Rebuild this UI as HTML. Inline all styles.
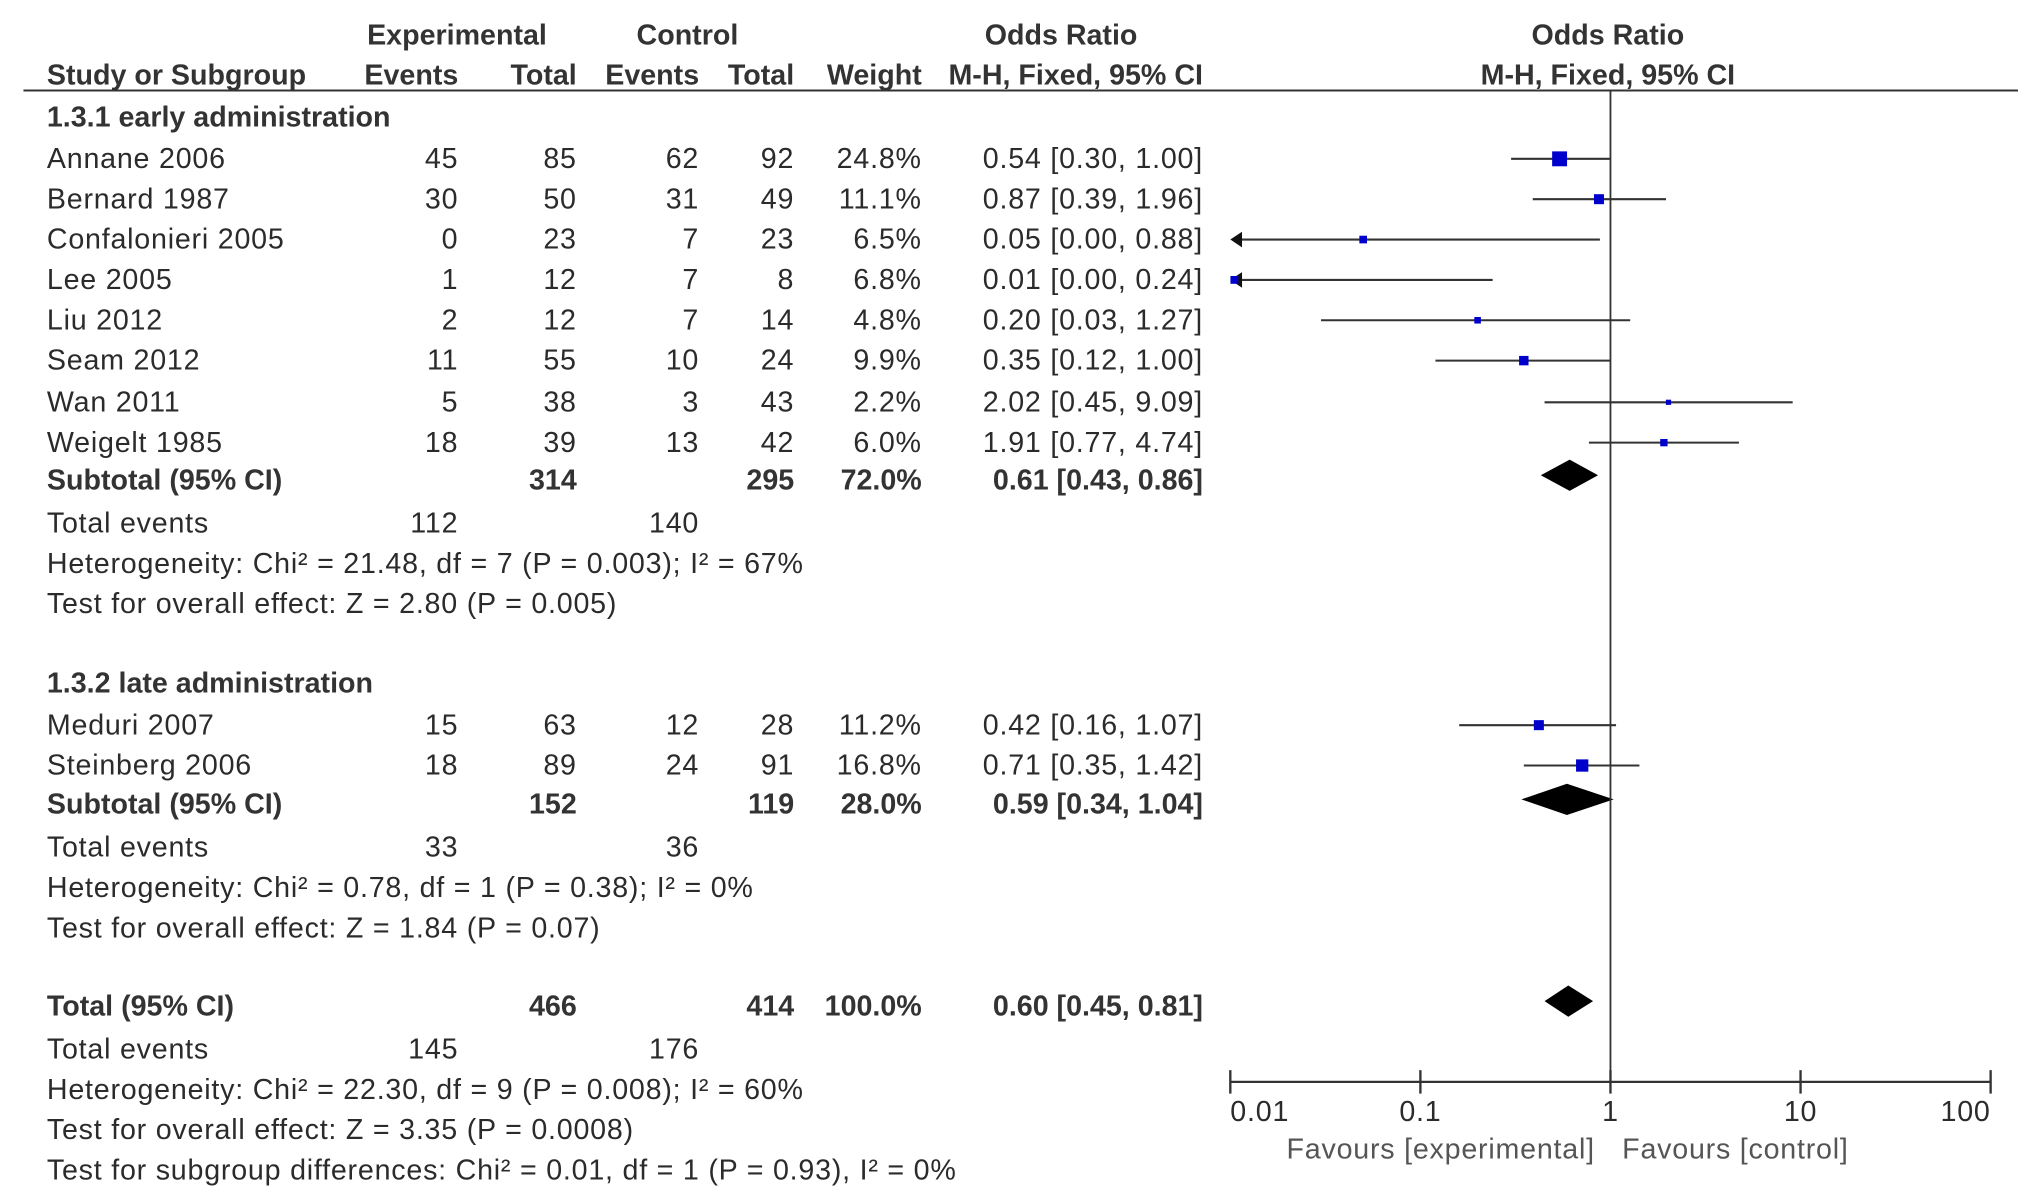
<!DOCTYPE html>
<html><head><meta charset="utf-8">
<style>
html,body{margin:0;padding:0;background:#fff;}
svg{display:block;}
text{font-family:"Liberation Sans",Arial,sans-serif;font-size:22px;letter-spacing:0.6px;fill:#2b2b2b;}
.b{font-weight:bold;letter-spacing:0;fill:#333;}
</style></head>
<body>
<svg id="chart" width="2031" height="1201" viewBox="0 0 1560 922.5" xmlns="http://www.w3.org/2000/svg">
<g id="hdr">
<text class="b" x="351" y="34" text-anchor="middle">Experimental</text>
<text class="b" x="528" y="34" text-anchor="middle">Control</text>
<text class="b" x="815" y="34" text-anchor="middle">Odds Ratio</text>
<text class="b" x="1235" y="34" text-anchor="middle">Odds Ratio</text>
<text class="b" x="36" y="65">Study or Subgroup</text>
<text class="b" x="352" y="65" text-anchor="end">Events</text>
<text class="b" x="443" y="65" text-anchor="end">Total</text>
<text class="b" x="537" y="65" text-anchor="end">Events</text>
<text class="b" x="610" y="65" text-anchor="end">Total</text>
<text class="b" x="708" y="65" text-anchor="end">Weight</text>
<text class="b" x="924" y="65" text-anchor="end">M-H, Fixed, 95% CI</text>
<text class="b" x="1235" y="65" text-anchor="middle">M-H, Fixed, 95% CI</text>
<line x1="18" y1="69.5" x2="1550" y2="69.5" stroke="#333" stroke-width="1.6"/>
</g>
<g id="rows"></g>
<g id="plot"></g>
</svg>
<script>
const studies=["Annane 2006","Bernard 1987","Confalonieri 2005","Lee 2005","Liu 2012","Seam 2012","Wan 2011","Weigelt 1985","Meduri 2007","Steinberg 2006"];
const expEvents=[45,30,0,1,2,11,5,18,15,18];
const expTotal=[85,50,23,12,12,55,38,39,63,89];
const ctrlEvents=[62,31,7,7,7,10,3,13,12,24];
const ctrlTotal=[92,49,23,8,14,24,43,42,28,91];
const weights=[24.8,11.1,6.5,6.8,4.8,9.9,2.2,6.0,11.2,16.8];
const orVals=[0.54,0.87,0.05,0.01,0.20,0.35,2.02,1.91,0.42,0.71];
const ciLow=[0.30,0.39,0.00,0.00,0.03,0.12,0.45,0.77,0.16,0.35];
const ciHigh=[1.00,1.96,0.88,0.24,1.27,1.00,9.09,4.74,1.07,1.42];
const studyY=[122,153,184,215,246,277,309,340,557,588];
const pooledLabels=["Subtotal (95% CI)","Subtotal (95% CI)","Total (95% CI)"];
const pooledExpTotal=[314,152,466];
const pooledCtrlTotal=[295,119,414];
const pooledWeight=["72.0%","28.0%","100.0%"];
const pooledOR=[0.61,0.59,0.60];
const pooledLow=[0.43,0.34,0.45];
const pooledHigh=[0.86,1.04,0.81];
const pooledY=[369,618,773];
const axisTicks=[0.01,0.1,1,10,100];
const axisTickLabels=["0.01","0.1","1","10","100"];

const NS="http://www.w3.org/2000/svg";
const rows=document.getElementById('rows'), plot=document.getElementById('plot');
function el(tag,attrs,parent,txt){const e=document.createElementNS(NS,tag);for(const k in attrs)e.setAttribute(k,attrs[k]);if(txt!==undefined)e.textContent=txt;parent.appendChild(e);return e;}
const X0=945,X1=1529;
function xs(v){return X0+(Math.log10(v)+2)/4*(X1-X0);}
const f2=v=>v.toFixed(2);

function txt(x,y,s,anchor,bold,name){
  const t=el('text',{x:x,y:y+7,'text-anchor':anchor||'start'},rows,s);
  if(bold)t.setAttribute('class','b');
  
  
  return t;
}
txt(36,90,"1.3.1 early administration","start",true,"subgroup-1-title");
txt(36,525,"1.3.2 late administration","start",true,"subgroup-2-title");

studies.forEach((s,i)=>{
  const y=studyY[i];
  txt(36,y,s,"start",false,"study-name");
  txt(352,y,String(expEvents[i]),"end",false,"exp-events");
  txt(443,y,String(expTotal[i]),"end",false,"exp-total");
  txt(537,y,String(ctrlEvents[i]),"end",false,"ctrl-events");
  txt(610,y,String(ctrlTotal[i]),"end",false,"ctrl-total");
  txt(708,y,weights[i].toFixed(1)+"%","end",false,"weight");
  txt(924,y,f2(orVals[i])+" ["+f2(ciLow[i])+", "+f2(ciHigh[i])+"]","end",false,"odds-ratio-ci");
  const lowClipped=ciLow[i]<0.01;
  const lx=lowClipped?X0+4:xs(ciLow[i]);
  const hx=Math.min(xs(Math.max(ciHigh[i],0.0001)),X1);
  const ln=el('line',{x1:lx,y1:y,x2:hx,y2:y,stroke:'#333','stroke-width':1.6},plot);
  
  
  if(lowClipped){
    const a=el('polygon',{points:`${X0},${y} ${X0+9},${y-6} ${X0+9},${y+6}`,fill:'#111'},plot);
    
    
  }
  const sz=Math.max(4,Math.sqrt(weights[i])*2.3);
  const sq=el('rect',{x:xs(Math.max(orVals[i],0.0105))-sz/2,y:y-sz/2,width:sz,height:sz,fill:'#0000cc'},plot);
  
  
});

pooledLabels.forEach((s,i)=>{
  const y=pooledY[i];
  txt(36,y,s,"start",true,"pooled-label");
  txt(443,y,String(pooledExpTotal[i]),"end",true,"pooled-exp-total");
  txt(610,y,String(pooledCtrlTotal[i]),"end",true,"pooled-ctrl-total");
  txt(708,y,pooledWeight[i],"end",true,"pooled-weight");
  txt(924,y,f2(pooledOR[i])+" ["+f2(pooledLow[i])+", "+f2(pooledHigh[i])+"]","end",true,"pooled-odds-ratio");
  const l=xs(pooledLow[i]),m=xs(pooledOR[i]),h=xs(pooledHigh[i]);
  const d=el('polygon',{points:`${l},${y-4} ${m},${y-16} ${h},${y-4} ${m},${y+8}`,fill:'#000'},plot);
  
  
});

const extra=[
 [402,"Total events",112,140],[433,"Heterogeneity: Chi² = 21.48, df = 7 (P = 0.003); I² = 67%"],[464,"Test for overall effect: Z = 2.80 (P = 0.005)"],
 [651,"Total events",33,36],[682,"Heterogeneity: Chi² = 0.78, df = 1 (P = 0.38); I² = 0%"],[713,"Test for overall effect: Z = 1.84 (P = 0.07)"],
 [806,"Total events",145,176],[837,"Heterogeneity: Chi² = 22.30, df = 9 (P = 0.008); I² = 60%"],[868,"Test for overall effect: Z = 3.35 (P = 0.0008)"],
 [899,"Test for subgroup differences: Chi² = 0.01, df = 1 (P = 0.93), I² = 0%"]];
extra.forEach(r=>{
  txt(36,r[0],r[1],"start",false,"summary-text");
  if(r[2]!==undefined){txt(352,r[0],String(r[2]),"end",false,"total-exp-events");txt(537,r[0],String(r[3]),"end",false,"total-ctrl-events");}
});

const vl=el('line',{x1:xs(1),y1:69,x2:xs(1),y2:831,stroke:'#333','stroke-width':1.4},plot);


const ax=el('line',{x1:X0,y1:831,x2:X1,y2:831,stroke:'#333','stroke-width':1.8},plot);


axisTicks.forEach((t,i)=>{
  const x=xs(t);
  const tk=el('line',{x1:x,y1:822,x2:x,y2:840,stroke:'#333','stroke-width':1.8},plot);
  
  
  const anchor=i===0?'start':(i===axisTicks.length-1?'end':'middle');
  const lb=el('text',{x:x,y:861,'text-anchor':anchor},plot,axisTickLabels[i]);
  
  
});
const fe=el('text',{x:1225,y:890,'text-anchor':'end',style:'fill:#555'},plot,"Favours [experimental]");


const fc=el('text',{x:1246,y:890,style:'fill:#555'},plot,"Favours [control]");


</script>
</body></html>
